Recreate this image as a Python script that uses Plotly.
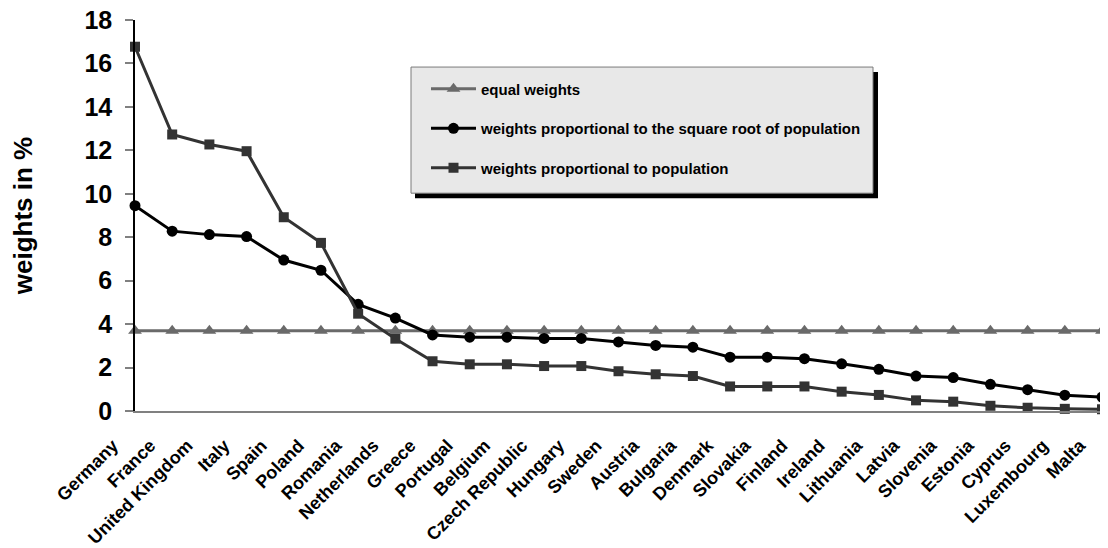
import plotly.graph_objects as go

countries = ["Germany", "France", "United Kingdom", "Italy", "Spain", "Poland", "Romania",
             "Netherlands", "Greece", "Portugal", "Belgium", "Czech Republic", "Hungary",
             "Sweden", "Austria", "Bulgaria", "Denmark", "Slovakia", "Finland", "Ireland",
             "Lithuania", "Latvia", "Slovenia", "Estonia", "Cyprus", "Luxembourg", "Malta"]

equal_weights = [3.7] * 27

sqrt_weights = [9.45, 8.28, 8.12, 8.03, 6.95, 6.48, 4.91, 4.28, 3.5, 3.4, 3.4, 3.34, 3.34,
                3.18, 3.02, 2.94, 2.48, 2.48, 2.41, 2.17, 1.92, 1.61, 1.54, 1.23, 0.98, 0.73, 0.64]

pop_weights = [16.77, 12.73, 12.27, 11.96, 8.92, 7.74, 4.48, 3.33, 2.29, 2.15, 2.15, 2.07, 2.07,
               1.83, 1.69, 1.61, 1.13, 1.13, 1.13, 0.89, 0.74, 0.49, 0.43, 0.24, 0.15, 0.1, 0.08]

y_ticks = [0, 2, 4, 6, 8, 10, 12, 14, 16, 18]

FONT = "Liberation Sans, Arial, sans-serif"

fig = go.Figure()
fig.add_trace(go.Scatter(
    x=countries, y=equal_weights, name="equal weights", mode="lines+markers",
    line=dict(color="#6a6a6a", width=3),
    marker=dict(symbol="triangle-up", size=12, color="#6a6a6a"),
    cliponaxis=False, legendgroup="a"))
fig.add_trace(go.Scatter(
    x=countries, y=sqrt_weights, name="weights proportional to the square root of population",
    mode="lines+markers",
    line=dict(color="#000000", width=3),
    marker=dict(symbol="circle", size=11, color="#000000"),
    cliponaxis=False, legendgroup="b"))
fig.add_trace(go.Scatter(
    x=countries, y=pop_weights, name="weights proportional to population", mode="lines+markers",
    line=dict(color="#333333", width=3),
    marker=dict(symbol="square", size=10, color="#333333"),
    cliponaxis=False, legendgroup="c"))

# The page body has an 8px margin, so the figure starts at page (8, 8).
OFF = 8
W, H = 1108 - OFF, 548 - OFF
# plot area in page pixels: x 135..1102, y 20..410.6
L, R, T, B = 135, 1102, 20, 410.6


def px(x):
    return (x - L) / (R - L)


def py(y):
    return (B - y) / (B - T)


# legend shadow and box
fig.add_shape(type="rect", xref="paper", yref="paper",
              x0=px(415), x1=px(878), y0=py(198), y1=py(72),
              fillcolor="#000000", line=dict(width=0), layer="above")
fig.add_shape(type="rect", xref="paper", yref="paper",
              x0=px(411), x1=px(873), y0=py(193), y1=py(67),
              fillcolor="#e8e8e8", line=dict(color="#7a7a7a", width=1), layer="above")

fig.update_layout(
    width=W, height=H,
    margin=dict(l=L - OFF, r=W - (R - OFF), t=T - OFF, b=H - (B - OFF), autoexpand=False),
    paper_bgcolor="white", plot_bgcolor="white",
    font=dict(family=FONT, color="#000000"),
    showlegend=True,
    legend=dict(
        x=px(426), y=py(72.5), xanchor="left", yanchor="top",
        bgcolor="rgba(0,0,0,0)", borderwidth=0,
        font=dict(family=FONT, size=15, weight="bold"),
        traceorder="grouped", tracegroupgap=17, itemwidth=45,
    ),
    xaxis=dict(
        range=[0, 26], showline=True, linecolor="#808080", linewidth=2,
        ticks="", showgrid=False, zeroline=False, tickangle=-45, automargin=False,
        tickfont=dict(family=FONT, size=18, weight="bold"),
        ticklabelstandoff=15, ticklabelshift=-22, ticklabeloverflow="allow",
    ),
    yaxis=dict(
        range=[0, 18], tickvals=y_ticks, showline=True, linecolor="#000000", linewidth=1.5,
        ticks="outside", ticklen=8, tickwidth=2, tickcolor="#808080",
        showgrid=False, zeroline=False, automargin=False, ticklabeloverflow="allow",
        tickfont=dict(family=FONT, size=25, weight="bold"),
        ticklabelstandoff=8,
        title=dict(text="weights in %", font=dict(family=FONT, size=26, weight="bold"), standoff=48),
    ),
)

fig.write_html("out.html")
